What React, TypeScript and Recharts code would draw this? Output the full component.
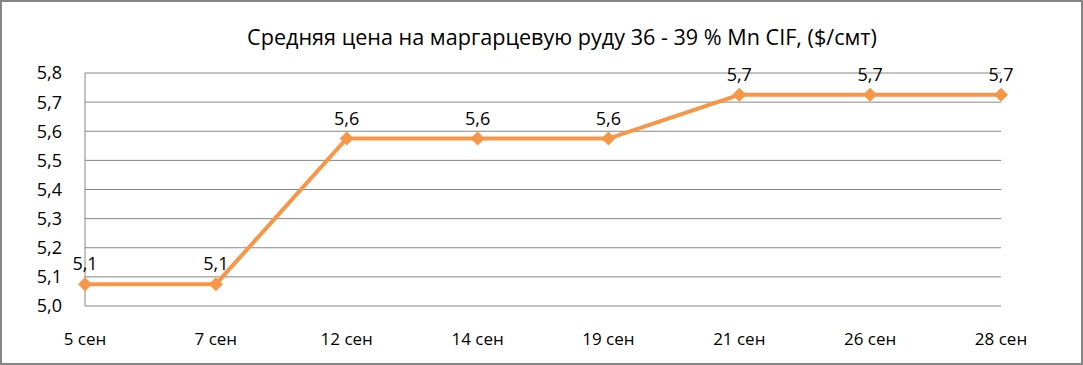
import { LineChart, Line, XAxis, YAxis, CartesianGrid, LabelList } from "recharts";

const dates = ["5 сен", "7 сен", "12 сен", "14 сен", "19 сен", "21 сен", "26 сен", "28 сен"];
const prices = [5.075, 5.075, 5.575, 5.575, 5.575, 5.725, 5.725, 5.725];
const yTicks = [5.0, 5.1, 5.2, 5.3, 5.4, 5.5, 5.6, 5.7, 5.8];

const data = dates.map((date, i) => ({ date, price: prices[i] }));

const FONT = "'Open Sans', sans-serif";
const GRID = "#868686";
const ORANGE = "#F79646";

function formatComma(value: number) {
    return value.toFixed(1).replace(".", ",");
}

function Diamond(props: any) {
    const { cx, cy } = props;
    if (cx == null || cy == null) return null;
    const r = 7;
    return (
        <path
            d={`M${cx},${cy - r}L${cx + r},${cy}L${cx},${cy + r}L${cx - r},${cy}Z`}
            fill={ORANGE}
        />
    );
}

export default function App() {
    return (
        <div
            style={{
                position: "absolute",
                left: 0,
                top: 0,
                width: 1083,
                height: 365,
                background: "#ffffff",
                fontFamily: FONT,
            }}
        >
            <div
                style={{
                    position: "absolute",
                    left: 0,
                    right: 0,
                    top: 22,
                    paddingLeft: 41,
                    textAlign: "center",
                    fontSize: 21.6,
                    color: "#000000",
                    lineHeight: "30px",
                }}
            >
                Средняя цена на маргарцевую руду 36 - 39 % Mn CIF, ($/смт)
            </div>
            <LineChart
                width={1083}
                height={365}
                data={data}
                margin={{ top: 73, right: 82, left: 0, bottom: 0 }}
            >
                <CartesianGrid vertical={false} stroke={GRID} strokeWidth={1} />
                <XAxis
                    dataKey="date"
                    height={59}
                    axisLine={false}
                    tickLine={false}
                    tickSize={0}
                    tickMargin={27}
                    interval={0}
                    tick={{ fill: "#000000", fontSize: 17, fontFamily: FONT }}
                />
                <YAxis
                    width={85}
                    domain={[5.0, 5.8]}
                    ticks={yTicks}
                    tickFormatter={(v) => formatComma(Number(v))}
                    axisLine={{ stroke: GRID }}
                    tickLine={false}
                    tickSize={0}
                    tickMargin={23}
                    tick={{ fill: "#000000", fontSize: 18, fontFamily: FONT }}
                />
                <Line
                    type="linear"
                    dataKey="price"
                    stroke={ORANGE}
                    strokeWidth={4}
                    dot={<Diamond />}
                    activeDot={false}
                    isAnimationActive={false}
                >
                    <LabelList
                        dataKey="price"
                        position="top"
                        offset={14}
                        formatter={(v: any) => formatComma(Number(v))}
                        style={{ fill: "#000000", fontSize: 18, fontFamily: FONT }}
                    />
                </Line>
            </LineChart>
            <div
                style={{
                    position: "absolute",
                    left: 0,
                    top: 0,
                    width: 1083,
                    height: 365,
                    boxSizing: "border-box",
                    border: `2px solid ${GRID}`,
                    pointerEvents: "none",
                }}
            />
        </div>
    );
}
